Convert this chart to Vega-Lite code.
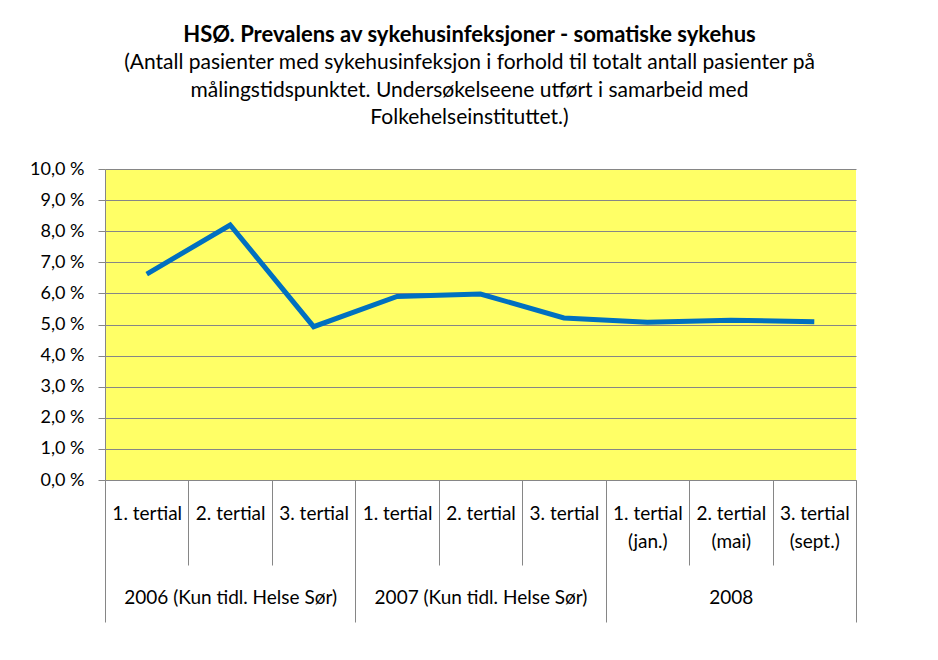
{
  "$schema": "https://vega.github.io/schema/vega-lite/v6.json",
  "width": 751,
  "height": 311,
  "autosize": {"type": "none"},
  "padding": {"left": 105, "top": 169, "right": 82, "bottom": 180},
  "background": "white",
  "title": {
    "text": "HSØ. Prevalens av sykehusinfeksjoner - somatiske sykehus",
    "subtitle": [
      "(Antall pasienter med sykehusinfeksjon i forhold til totalt antall pasienter på",
      "målingstidspunktet. Undersøkelseene utført i samarbeid med",
      "Folkehelseinstituttet.)"
    ],
    "font": "Lato",
    "fontSize": 22,
    "fontWeight": "bold",
    "color": "black",
    "subtitleFont": "Lato",
    "subtitleFontSize": 21,
    "subtitleLineHeight": 27.5,
    "subtitlePadding": 5,
    "subtitleColor": "black",
    "anchor": "middle",
    "offset": 31,
    "dx": -11
  },
  "data": {
    "values": [
      {"aar": "2006 (Kun tidl. Helse Sør)", "x": "2006 1. tertial", "verdi": 6.62},
      {"aar": "2006 (Kun tidl. Helse Sør)", "x": "2006 2. tertial|\u200b|\u200b|2006 (Kun tidl. Helse Sør)", "verdi": 8.2},
      {"aar": "2006 (Kun tidl. Helse Sør)", "x": "2006 3. tertial", "verdi": 4.93},
      {"aar": "2007 (Kun tidl. Helse Sør)", "x": "2007 1. tertial", "verdi": 5.9},
      {"aar": "2007 (Kun tidl. Helse Sør)", "x": "2007 2. tertial|\u200b|\u200b|2007 (Kun tidl. Helse Sør)", "verdi": 5.98},
      {"aar": "2007 (Kun tidl. Helse Sør)", "x": "2007 3. tertial", "verdi": 5.21},
      {"aar": "2008", "x": "2008 1. tertial|(jan.)", "verdi": 5.07},
      {"aar": "2008", "x": "2008 2. tertial|(mai)|\u200b|2008", "verdi": 5.14},
      {"aar": "2008", "x": "2008 3. tertial|(sept.)", "verdi": 5.09}
    ]
  },
  "config": {
    "view": {"fill": "#FFFF66", "stroke": null},
    "font": "Lato"
  },
  "mark": {"type": "line", "color": "#0070C0", "strokeWidth": 5, "strokeJoin": "miter", "strokeCap": "butt"},
  "encoding": {
    "x": {
      "field": "x",
      "type": "ordinal",
      "scale": {"type": "band", "paddingInner": 0, "paddingOuter": 0},
      "axis": {
        "title": null,
        "grid": false,
        "tickBand": "extent",
        "tickSize": {"condition": {"test": "!isString(datum.value) || indexof(datum.value, '3. tertial') >= 0", "value": 142}, "value": 85},
        "tickColor": "#868686",
        "domainColor": "#868686",
        "labelExpr": "isString(datum.value) ? split(slice(datum.value, 5), '|') : ''",
        "labelFont": "Lato",
        "labelFontSize": 19,
        "labelColor": "black",
        "labelAngle": 0,
        "labelPadding": {"condition": {"test": "isString(datum.value) && indexof(datum.value, '3. tertial') >= 0", "value": -118}, "value": -61},
        "labelLineHeight": 28,
        "labelOverlap": false,
        "labelBound": false,
        "labelLimit": 0
      }
    },
    "y": {
      "field": "verdi",
      "type": "quantitative",
      "scale": {"domain": [0, 10], "nice": false},
      "axis": {
        "title": null,
        "values": [0, 1, 2, 3, 4, 5, 6, 7, 8, 9, 10],
        "labelExpr": "replace(format(datum.value, '.1f'), '.', ',') + ' %'",
        "tickSize": 7,
        "tickColor": "#868686",
        "domainColor": "#868686",
        "gridColor": "#868686",
        "gridOpacity": 1,
        "labelPadding": 14,
        "labelFont": "Lato",
        "labelFontSize": 18,
        "labelColor": "black"
      }
    }
  }
}
